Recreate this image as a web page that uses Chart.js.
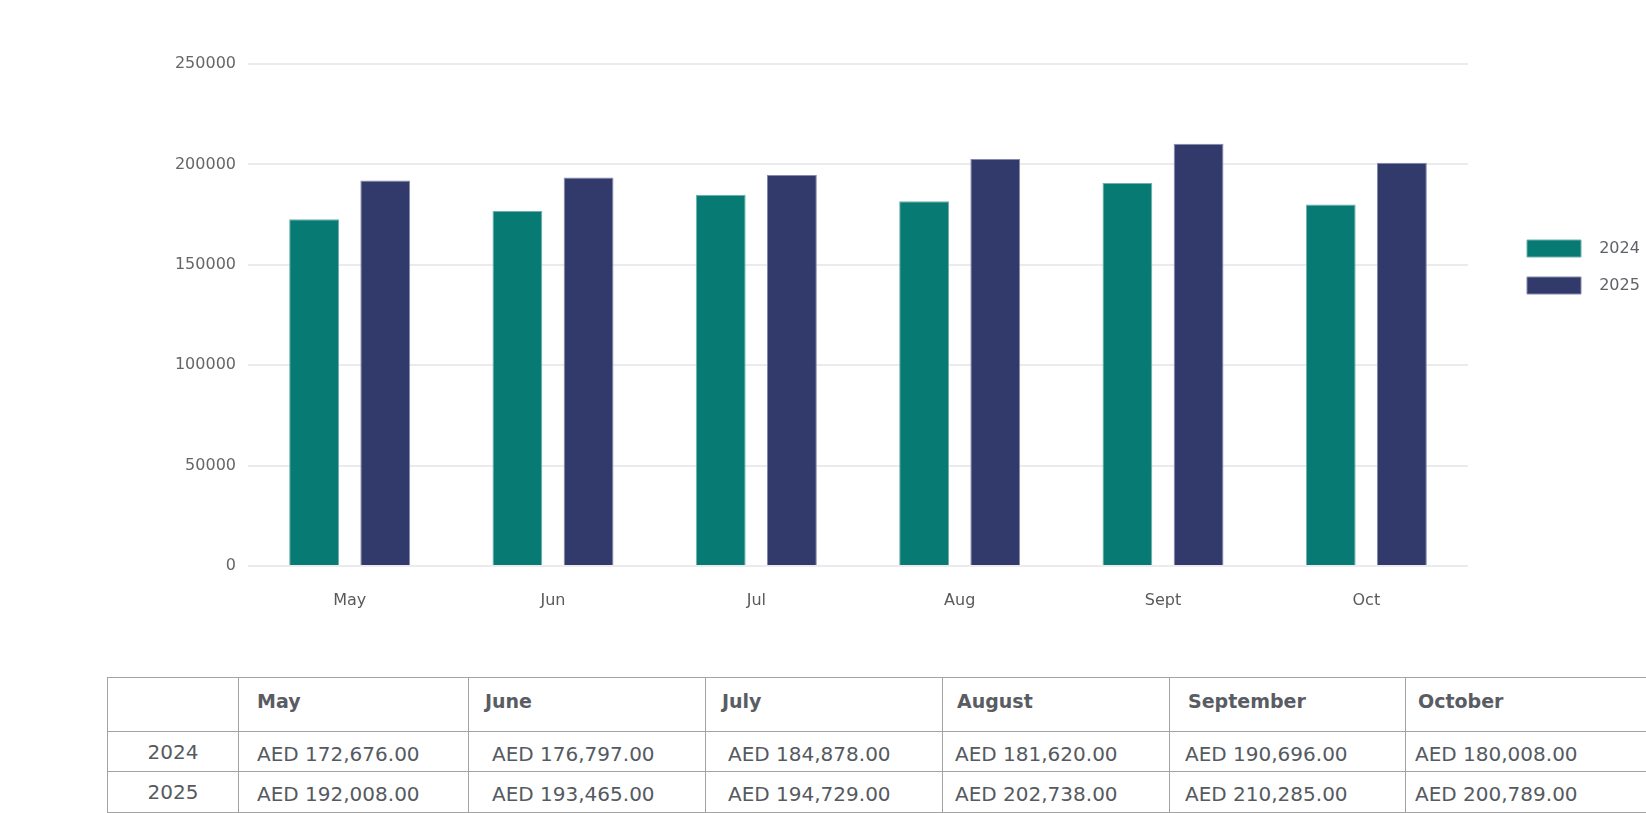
<!DOCTYPE html>
<html>
<head>
<meta charset="utf-8">
<script src="https://cdn.jsdelivr.net/npm/chart.js@4"></script>
<style>
  html, body { margin: 0; padding: 0; background: #ffffff; }
  body { width: 1646px; height: 813px; position: relative; overflow: hidden; font-family: "DejaVu Sans", sans-serif; }
  #chartBox { position: absolute; left: 0; top: 0; width: 1646px; height: 627px; }
  table.data { position: absolute; left: 107px; top: 677px; border-collapse: collapse; table-layout: fixed; width: 1539px; color: #555a60; }
  table.data td, table.data th { border: 1px solid #a3a3a3; padding: 0 0 0 16px; text-align: left; white-space: nowrap; overflow: hidden; box-sizing: border-box; }
  table.data th { font-weight: bold; font-size: 19px; height: 54px; color: #595d63; padding-bottom: 7px; }
  table.data td { font-size: 20px; font-weight: normal; }
  table.data tr.r1 td { height: 40px; padding-top: 4px; }
  table.data tr.r2 td { height: 41px; padding-top: 3px; }
  table.data td.yr { text-align: center; padding-left: 0; padding-top: 0 !important; }
  table.data th:nth-child(2) { padding-left: 18px; }
  table.data th:nth-child(3) { padding-left: 16px; }
  table.data th:nth-child(4) { padding-left: 16px; }
  table.data th:nth-child(5) { padding-left: 14px; }
  table.data th:nth-child(6) { padding-left: 18px; }
  table.data th:nth-child(7) { padding-left: 12px; }
  table.data td:nth-child(2) { padding-left: 18px; }
  table.data td:nth-child(3) { padding-left: 23px; }
  table.data td:nth-child(4) { padding-left: 22px; }
  table.data td:nth-child(5) { padding-left: 12px; }
  table.data td:nth-child(6) { padding-left: 15px; }
  table.data td:nth-child(7) { padding-left: 9px; }
</style>
</head>
<body>
<div id="chartBox"><canvas id="c" width="1646" height="627"></canvas></div>
<table class="data" id="tbl"></table>
<script>
const months = ['May', 'Jun', 'Jul', 'Aug', 'Sept', 'Oct'];
const tableMonths = ['May', 'June', 'July', 'August', 'September', 'October'];
const years = ['2024', '2025'];
const sales2024 = [172676, 176797, 184878, 181620, 190696, 180008];
const sales2025 = [192008, 193465, 194729, 202738, 210285, 200789];
const yTickLabels = ['0', '50000', '100000', '150000', '200000', '250000'];

const teal = '#077a74';
const navy = '#313a6b';

new Chart(document.getElementById('c'), {
  type: 'bar',
  data: {
    labels: months,
    datasets: [
      { label: years[0], data: sales2024, backgroundColor: teal, borderColor: '#6fb0ac', borderWidth: 1, categoryPercentage: 0.7, barPercentage: 0.7 },
      { label: years[1], data: sales2025, backgroundColor: navy, borderColor: '#8389ad', borderWidth: 1, categoryPercentage: 0.7, barPercentage: 0.7 }
    ]
  },
  options: {
    responsive: false,
    animation: false,
    layout: { padding: { left: 0, right: 6, top: 64, bottom: 0 } },
    plugins: {
      tooltip: { enabled: false },
      legend: {
        position: 'right',
        align: 'start',
        maxWidth: 133,
        title: { display: true, text: ' ', font: { size: 10 }, padding: { top: 144, bottom: 0 } },
        labels: {
          boxWidth: 54,
          boxHeight: 17,
          padding: 20,
          color: '#5f6368',
          font: { family: 'DejaVu Sans', size: 16 },
          generateLabels: chart => Chart.defaults.plugins.legend.labels.generateLabels(chart).map(it => Object.assign(it, { text: '  ' + it.text }))
        }
      }
    },
    scales: {
      x: {
        grid: { display: false, drawTicks: false },
        border: { display: false },
        ticks: { color: '#5a5a5a', padding: 25, font: { family: 'DejaVu Sans', size: 16 } },
        afterFit: s => { s.height = 61; }
      },
      y: {
        min: 0,
        max: 250000,
        grid: { color: '#ebebee', lineWidth: 2, drawTicks: false },
        border: { display: false },
        ticks: {
          stepSize: 50000,
          padding: 12,
          color: '#666666',
          font: { family: 'DejaVu Sans', size: 16 },
          callback: (v, i) => yTickLabels[i]
        },
        afterFit: s => { s.width = 248; }
      },
      yRight: {
        position: 'right',
        display: true,
        grid: { display: false, drawTicks: false },
        border: { display: false },
        ticks: { display: false },
        afterFit: s => { s.width = 39; }
      }
    }
  }
});

// Table built from the same arrays
const fmt = v => 'AED ' + v.toLocaleString('en-US', { minimumFractionDigits: 2, maximumFractionDigits: 2 });
const tbl = document.getElementById('tbl');
const colWidths = [131, 230, 237, 237, 227, 236, 241];
let html = '<colgroup>' + colWidths.map(w => '<col style="width:' + w + 'px">').join('') + '</colgroup>';
html += '<tr><th></th>' + tableMonths.map(m => '<th>' + m + '</th>').join('') + '</tr>';
[sales2024, sales2025].forEach((row, r) => {
  html += '<tr class="r' + (r + 1) + '"><td class="yr">' + years[r] + '</td>' + row.map(v => '<td>' + fmt(v) + '</td>').join('') + '</tr>';
});
tbl.innerHTML = html;
</script>
</body>
</html>
